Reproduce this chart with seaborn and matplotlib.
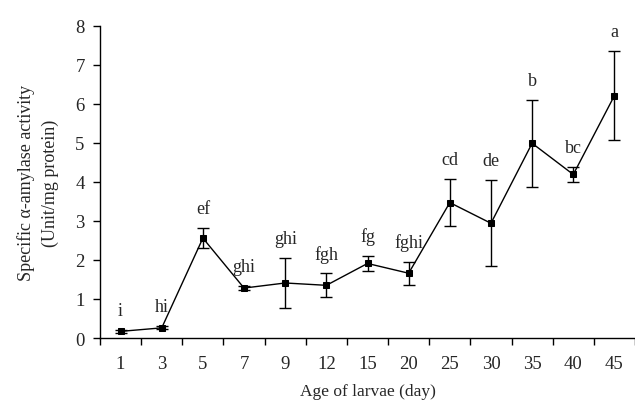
import numpy as np
import pandas as pd
import matplotlib
matplotlib.use("Agg")
import matplotlib.pyplot as plt
import seaborn as sns
from matplotlib.ticker import FixedLocator

ages = ["1", "3", "5", "7", "9", "12", "15", "20", "25", "30", "35", "40", "45"]
activity = [0.17, 0.26, 2.56, 1.28, 1.41, 1.35, 1.91, 1.66, 3.47, 2.94, 4.99, 4.19, 6.21]
sd = [0.03, 0.04, 0.26, 0.06, 0.65, 0.31, 0.20, 0.29, 0.60, 1.10, 1.12, 0.20, 1.14]
letters = ["i", "hi", "ef", "ghi", "ghi", "fgh", "fg", "fghi", "cd", "de", "b", "bc", "a"]

sns.set_style("ticks")
plt.rcParams["font.family"] = ["Liberation Serif", "DejaVu Serif"]

df = pd.DataFrame({"age": ages, "activity": activity, "sd": sd})

fig = plt.figure(figsize=(6.35, 4.06), dpi=100)
ax = fig.add_axes([0.1575, 0.165, 0.8425, 0.769])

sns.pointplot(data=df, x="age", y="activity", order=ages, color="black",
              markers="s", markersize=5, linewidth=1.0, errorbar=None, ax=ax)
pos = np.arange(len(ages))
ax.errorbar(pos, df["activity"], yerr=df["sd"], fmt="none", ecolor="black",
            elinewidth=1.0, capsize=4, capthick=1.0, zorder=1)

for i, (m, s, t) in enumerate(zip(activity, sd, letters)):
    ax.annotate(t, (i, m + s), xytext=(0, 14), textcoords="offset points",
                ha="center", va="center", fontsize=13)

ax.set_xlim(-0.5, 12.5)
ax.set_ylim(0, 8)
ax.set_yticks(range(0, 9))
ax.xaxis.set_minor_locator(FixedLocator(np.arange(-0.5, 12.6, 1.0)))
ax.tick_params(axis="x", which="major", length=0, pad=12, labelsize=13.5)
ax.tick_params(axis="x", which="minor", length=5, width=1, direction="out", color="black")
ax.tick_params(axis="y", length=5, width=1, direction="out", pad=6, labelsize=13.5, color="black")

for sp in ["top", "right"]:
    ax.spines[sp].set_visible(False)
for sp in ["left", "bottom"]:
    ax.spines[sp].set_color("black")
    ax.spines[sp].set_linewidth(1.0)

ax.set_xlabel("Age of larvae (day)", fontsize=12.5, labelpad=8)
ax.set_ylabel("Specific α-amylase activity\n(Unit/mg protein)", fontsize=13,
              labelpad=12, linespacing=1.45)

fig.savefig("out.png", dpi=100)
